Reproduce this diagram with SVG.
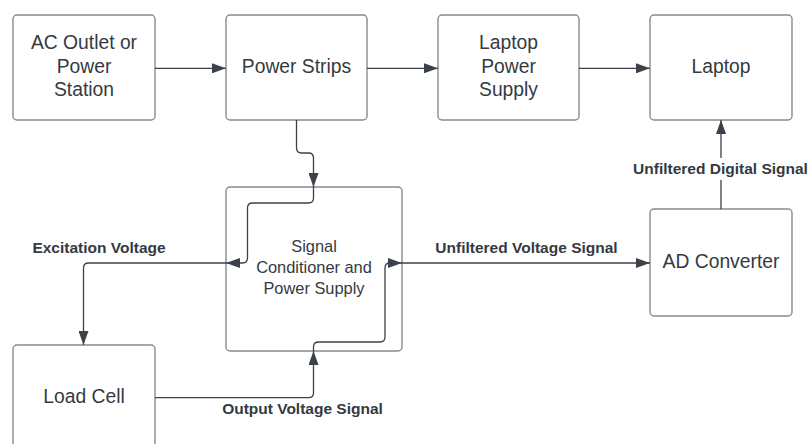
<svg xmlns="http://www.w3.org/2000/svg" width="809" height="444" viewBox="0 0 809 444">
<style>
.box{fill:#fff;stroke:#8a8a8a;stroke-width:1.4}
.t{font-family:"Liberation Sans",Arial,sans-serif;font-size:19.3px;fill:#333a42;text-anchor:middle}
.ts{font-family:"Liberation Sans",Arial,sans-serif;font-size:16.4px;fill:#333a42;text-anchor:middle}
.lbl{font-family:"Liberation Sans",Arial,sans-serif;font-size:15.5px;font-weight:bold;fill:#333a42;text-anchor:middle}
.c{fill:none;stroke:#3a414a;stroke-width:1.3}
</style>
<defs>
<marker id="ah" viewBox="0 0 14 10" refX="14" refY="5" markerWidth="14" markerHeight="10" markerUnits="userSpaceOnUse" orient="auto">
<path d="M0 0 L14 5 L0 10 Z" fill="#3a414a"/>
</marker>
</defs>
<rect width="809" height="444" fill="#fff"/>
<g id="ac"><rect class="box" x="13" y="15" width="142" height="105" rx="4"/>
<text class="t" x="84" y="49.3">AC Outlet or</text><text class="t" x="84" y="72.7">Power</text><text class="t" x="84" y="96">Station</text></g>
<g id="strips"><rect class="box" x="226" y="15" width="141" height="105" rx="4"/>
<text class="t" x="296.5" y="73">Power Strips</text></g>
<g id="lps"><rect class="box" x="438" y="15" width="141" height="105" rx="4"/>
<text class="t" x="508.5" y="49.3">Laptop</text><text class="t" x="508.5" y="72.7">Power</text><text class="t" x="508.5" y="96">Supply</text></g>
<g id="laptop"><rect class="box" x="650" y="15" width="142" height="105" rx="4"/>
<text class="t" x="721" y="73">Laptop</text></g>
<g id="sc"><rect class="box" x="226" y="187" width="176" height="164" rx="4"/>
<text class="ts" x="314" y="252">Signal</text><text class="ts" x="314" y="273">Conditioner and</text><text class="ts" x="314" y="294">Power Supply</text></g>
<g id="adc"><rect class="box" x="650" y="209" width="142" height="107" rx="4"/>
<text class="t" x="721" y="268.3">AD Converter</text></g>
<g id="load"><rect class="box" x="13" y="345" width="142" height="110" rx="4"/>
<text class="t" x="84" y="403.3">Load Cell</text></g>
<g id="connectors">
<path class="c" d="M155 68.3 H226" marker-end="url(#ah)"/>
<path class="c" d="M367 68.3 H438" marker-end="url(#ah)"/>
<path class="c" d="M579 68.3 H650" marker-end="url(#ah)"/>
<path class="c" d="M296.5 120 V148 Q296.5 153 301.5 153 H308.5 Q313.5 153 313.5 158 V187" marker-end="url(#ah)"/>
<path class="c" d="M313.5 187 V198 Q313.5 203 308.5 203 H252.5 Q247.5 203 247.5 208 V258 Q247.5 263 242.5 263 H226" marker-end="url(#ah)"/>
<path class="c" d="M226 263 H88.5 Q83.5 263 83.5 268 V345" marker-end="url(#ah)"/>
<path class="c" d="M155 397.7 H308.5 Q313.5 397.7 313.5 392.7 V351" marker-end="url(#ah)"/>
<path class="c" d="M313.5 351 V347 Q313.5 342 318.5 342 H380 Q385 342 385 337 V268 Q385 263 390 263 H402" marker-end="url(#ah)"/>
<path class="c" d="M402 263 H650" marker-end="url(#ah)"/>
<path class="c" d="M721 209 V120" marker-end="url(#ah)"/>
</g>
<g id="labels">
<text class="lbl" x="99" y="253.3">Excitation Voltage</text>
<rect x="631" y="158" width="179" height="22" fill="#fff"/>
<text class="lbl" x="720.5" y="174.3">Unfiltered Digital Signal</text>
<text class="lbl" x="526.5" y="252.7">Unfiltered Voltage Signal</text>
<text class="lbl" x="302.5" y="414.3">Output Voltage Signal</text>
</g>
</svg>
